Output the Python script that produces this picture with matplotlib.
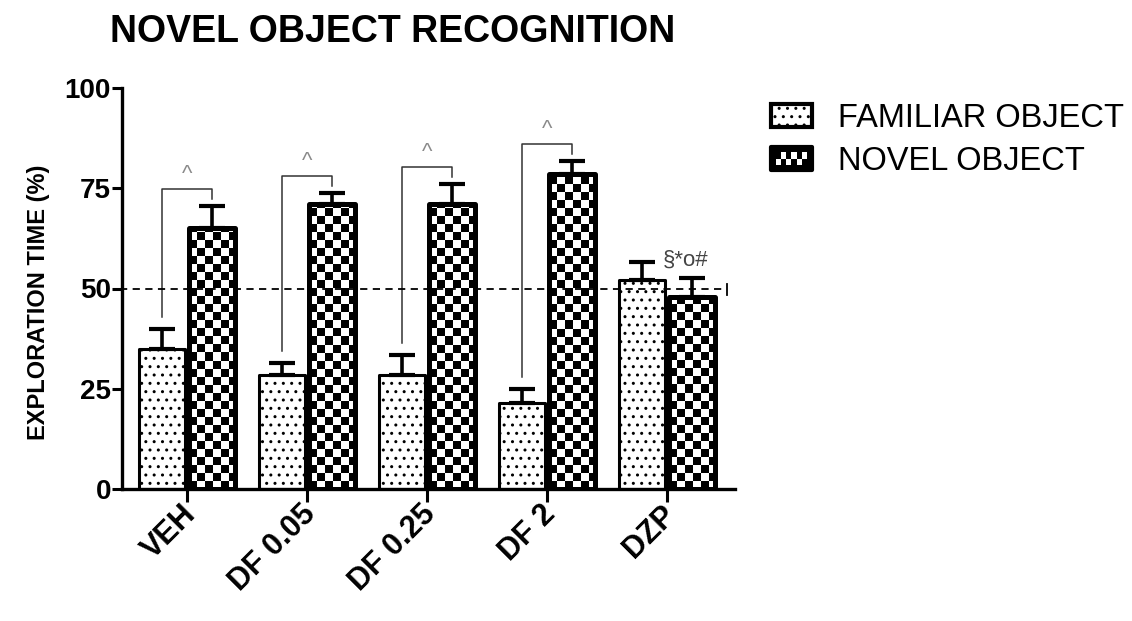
import numpy as np
import matplotlib
matplotlib.use("Agg")
import matplotlib.pyplot as plt
import matplotlib.transforms as mtransforms
from matplotlib.patches import Rectangle, Patch

plt.rcParams['font.family'] = ['Liberation Sans', 'DejaVu Sans']
plt.rcParams['hatch.linewidth'] = 1.0

# --- data -------------------------------------------------------------
groups = ["VEH", "DF 0.05", "DF 0.25", "DF 2", "DZP"]
familiar = [35, 28.5, 28.5, 21.5, 52]
familiar_sem = [5, 3, 5, 3.5, 4.5]
novel = [65, 71, 71, 78.5, 48]
novel_sem = [5.5, 2.7, 5, 3.3, 4.5]
sig_groups = [0, 1, 2, 3]           # groups marked with ^ (novel vs familiar)
dzp_mark = "§*o#"
chance_level = 50
series_labels = ["FAMILIAR OBJECT", "NOVEL OBJECT"]
yticks = [0, 25, 50, 75, 100]

# --- figure -----------------------------------------------------------
fig = plt.figure(figsize=(11.32, 6.21), dpi=100)
ax = fig.add_axes([122/1132, 1-489/621, (735-122)/1132, (489-88)/621])

x = np.arange(len(groups))
bw = 0.383
off = 0.208

fam_bars = ax.bar(x - off, familiar, bw, facecolor='white', edgecolor='black',
                  linewidth=2.2, hatch='..', zorder=2)
nov_bars = ax.bar(x + off, novel, bw, facecolor='white', edgecolor='none',
                  linewidth=0, zorder=3)
for b in fam_bars:
    b.set_joinstyle('round')

# checkerboard fill for the novel-object bars
cell_x, cell_y = 0.0667, 2.0
for b in nov_bars:
    x0, y0 = b.get_x(), 0
    w, h = b.get_width(), b.get_height()
    nx = int(np.ceil(w / cell_x)) + 1
    ny = int(np.ceil(h / cell_y)) + 1
    ii, jj = np.indices((ny, nx))
    tex = ((ii + jj) % 2).astype(float)
    im = ax.imshow(tex, cmap='gray', vmin=0, vmax=1, interpolation='nearest',
                   origin='lower', aspect='auto',
                   extent=(x0, x0 + nx * cell_x, y0, y0 + ny * cell_y), zorder=3.2)
    im.set_clip_path(b)
    # outline drawn over the texture
    ax.add_patch(Rectangle((x0, y0), w, h, fill=False, edgecolor='black',
                           linewidth=3.6, joinstyle='round', zorder=3.5))

# error bars (upper only)
for xs, vals, errs in [(x - off, familiar, familiar_sem), (x + off, novel, novel_sem)]:
    ax.errorbar(xs, vals, yerr=[np.zeros(len(errs)), errs], fmt='none',
                ecolor='black', elinewidth=2.6, capsize=9.5, capthick=3.0, zorder=4)

# chance line at 50 %
ax.plot([-0.56, 4.48], [chance_level, chance_level], color='black', lw=1.3,
        linestyle=(0, (4, 3)), clip_on=False, zorder=5)
ax.plot([4.5, 4.5], [chance_level - 1.6, chance_level + 1.2], color='black',
        lw=1.3, clip_on=False, zorder=5)

# significance brackets
for g in sig_groups:
    f_top = familiar[g] + familiar_sem[g]
    n_top = novel[g] + novel_sem[g]
    top = n_top + 4.3
    ax.plot([g - off, g - off, g + off, g + off],
            [f_top + 3.0, top, top, n_top + 1.8],
            color='#333333', lw=1.1, zorder=4)
    ax.text(g, top + 1.0, "^", ha='center', va='bottom', fontsize=16,
            color='#8a8a8a')

# DZP annotation
d = 4
ax.text(d - 0.03, max(familiar[d] + familiar_sem[d], novel[d] + novel_sem[d]) + 0.6,
        dzp_mark, ha='left', va='center', fontsize=16, color='#444444')

# axes styling
ax.set_xlim(-0.54, 4.57)
ax.set_ylim(0, 100)
ax.set_yticks(yticks)
ax.set_xticks(x)
ax.tick_params(axis='x', length=9, width=2.2, pad=-1.5)
ax.tick_params(axis='y', length=7, width=2.2, labelsize=20, pad=1)
ax.set_xticklabels(groups, rotation=45, ha='right', va='top',
                   rotation_mode='anchor', fontsize=22, fontweight='bold')
shift = mtransforms.ScaledTranslation(-6/100, 0, fig.dpi_scale_trans)
for lab in ax.get_xticklabels():
    lab.set_transform(lab.get_transform() + shift)
for lab in ax.get_yticklabels():
    lab.set_fontweight('bold')
for side in ['top', 'right']:
    ax.spines[side].set_visible(False)
for side in ['left', 'bottom']:
    ax.spines[side].set_linewidth(2.4)

ax.set_ylabel("EXPLORATION TIME (%)", fontsize=17, fontweight='bold')
ax.yaxis.set_label_coords(-0.118, 0.466)

fig.text(393/1132, 1-32/621, "NOVEL OBJECT RECOGNITION", ha='center',
         va='center', fontsize=27, fontweight='bold')


# legend with checker swatch for the novel series
class CheckerHandler:
    def legend_artist(self, legend, orig_handle, fontsize, handlebox):
        x0, y0 = handlebox.xdescent, handlebox.ydescent
        w, h = handlebox.width, handlebox.height
        tr = handlebox.get_transform()
        base = Rectangle((x0, y0), w, h, facecolor='black', edgecolor='black',
                         lw=3, joinstyle='round', transform=tr)
        handlebox.add_artist(base)
        pad = 3.5
        nx, ny = 6, 2
        cw = (w - 2 * pad) / nx
        ch = (h - 2 * pad) / ny
        for i in range(ny):
            for j in range(nx):
                if (i + j) % 2 == 0:
                    handlebox.add_artist(Rectangle((x0 + pad + j * cw, y0 + pad + i * ch),
                                                   cw, ch, facecolor='white',
                                                   edgecolor='none', transform=tr))
        return base


fam_handle = Patch(facecolor='white', edgecolor='black', hatch='..', lw=3)
nov_handle = Patch(facecolor='black', edgecolor='black')
fig.legend([fam_handle, nov_handle], series_labels,
           handler_map={nov_handle: CheckerHandler()},
           loc='upper left', bbox_to_anchor=(771/1132, 1-103/621),
           frameon=False, fontsize=23.5, handlelength=1.25, handleheight=0.72,
           handletextpad=0.8, labelspacing=0.38, borderpad=0, borderaxespad=0)

fig.savefig("out.png", dpi=100)
